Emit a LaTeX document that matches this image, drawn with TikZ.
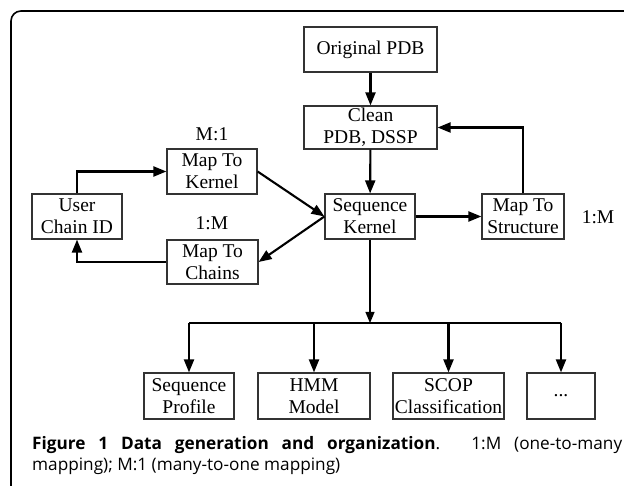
\documentclass[tikz,border=0pt]{standalone}
\usepackage{fontspec}
\setmainfont{Liberation Serif}
\newfontfamily\capfont{Open Sans}
\usetikzlibrary{arrows.meta}
\begin{document}
\begin{tikzpicture}[x=1pt,y=-1pt,
  box/.style={draw=black!80,line width=1.2pt,inner sep=0pt,align=center,
    font=\fontsize{19.5}{22}\selectfont},
  flow/.style={line width=2.1pt,-{Triangle[length=13pt,width=10pt]}},
  lbl/.style={font=\fontsize{19.5}{22}\selectfont,inner sep=0pt}]
\useasboundingbox (0,0) rectangle (624,486);
% panel frame, only its top and left sides are visible
\draw[line width=1.6pt,rounded corners=10pt] (11,495) -- (11,11) -- (640,11);

% main chain of steps
\node[box,minimum width=133pt,minimum height=45pt] (orig) at (370.5,49.5) {Original PDB};
\node[box,minimum width=133pt,minimum height=43pt] (clean) at (370.5,127.5) {Clean\\PDB, DSSP};
\node[box,minimum width=90pt,minimum height=45pt] (kernel) at (370,216.5) {Sequence\\Kernel};
\node[box,minimum width=82pt,minimum height=45pt] (mstruct) at (523,216.5) {Map To\\Structure};
\node[box,minimum width=90pt,minimum height=45pt] (mkernel) at (212,171.5) {Map To\\Kernel};
\node[box,minimum width=90pt,minimum height=45pt] (user) at (77,216.5) {User\\Chain ID};
\node[box,minimum width=91pt,minimum height=44pt] (mchains) at (212.5,262) {Map To\\Chains};

% mapping cardinalities
\node[lbl] (l1) at (212,134) {M:1};
\node[lbl] (l2) at (212,223) {1:M};
\node[lbl] (l3) at (598,217) {1:M};

% derived data
\node[box,minimum width=90pt,minimum height=46pt] (prof) at (189,396) {Sequence\\Profile};
\node[box,minimum width=112pt,minimum height=46pt] (hmm) at (314,396) {HMM\\Model};
\node[box,minimum width=111pt,minimum height=46pt] (scop) at (448.5,396) {SCOP\\Classification};
\node[box,minimum width=68pt,minimum height=46pt] (more) at (561,396) {...};

% connectors
\draw[flow] (orig) -- (clean);
\draw[flow] (clean) -- (kernel);
\draw[flow] (kernel) -- (mstruct);
\draw[flow] (mstruct.north) |- (clean.east);
\draw[flow] (user.north) |- (mkernel.west);
\draw[flow] (mkernel.east) -- (kernel.west);
\draw[flow] (kernel.west) -- (mchains.east);
\draw[flow] (mchains.west) -| (user.south);

\coordinate (bus) at (370,323);
\draw[line width=1.2pt,-{Triangle[length=11pt,width=9pt]}] (kernel.south) -- (bus);
\draw[line width=2.1pt] (prof.north |- bus) -- (more.north |- bus);
\draw[flow] (prof.north |- bus) -- (prof.north);
\draw[flow] (hmm.north |- bus) -- (hmm.north);
\draw[flow] (scop.north |- bus) -- (scop.north);
\draw[flow] (more.north |- bus) -- (more.north);

% caption
\node[anchor=north west,inner sep=0pt,text width=590pt,align=justify,
  font=\capfont\fontsize{17.2}{21}\selectfont] (cap) at (32,436)
  {\textbf{Figure 1 Data generation and organization}. 1:M (one-to-many\linebreak
  mapping); M:1 (many-to-one mapping)};
\end{tikzpicture}
\end{document}
